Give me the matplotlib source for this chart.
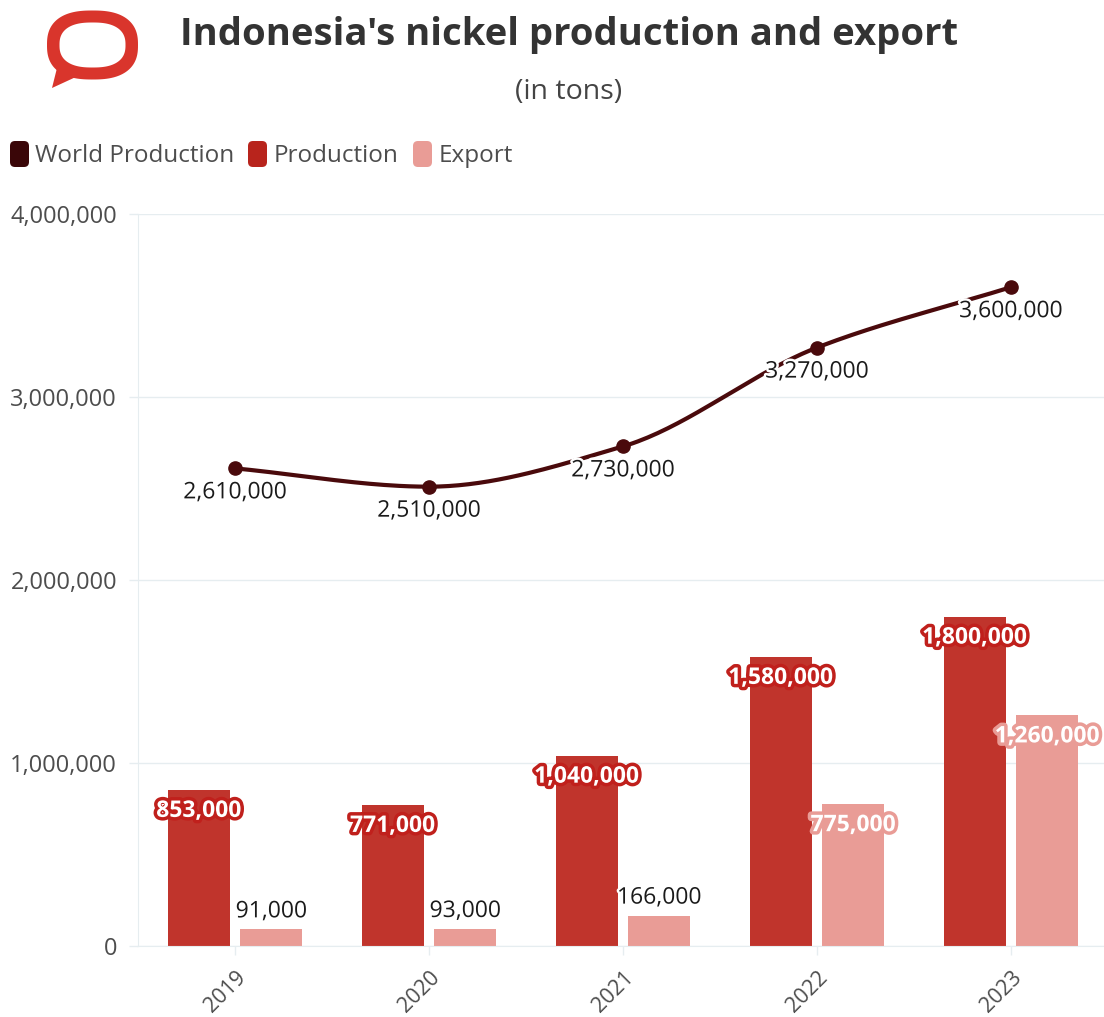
import numpy as np
import matplotlib
matplotlib.use("Agg")
import matplotlib.pyplot as plt
import matplotlib.patheffects as pe
from matplotlib.patches import FancyBboxPatch, Polygon
from matplotlib.transforms import ScaledTranslation

years = ["2019", "2020", "2021", "2022", "2023"]
world = [2610000, 2510000, 2730000, 3270000, 3600000]
production = [853000, 771000, 1040000, 1580000, 1800000]
export = [91000, 93000, 166000, 775000, 1260000]
y_ticks = [0, 1000000, 2000000, 3000000, 4000000]

DARK = "#4a0a0c"
RED = "#c0342c"
PINK = "#e99c96"
TEXT = "#4d4d4d"
GRID = "#e6edf0"
plt.rcParams["font.family"] = ["Open Sans", "DejaVu Sans"]

W, H = 1104, 1017
fig = plt.figure(figsize=(W / 100, H / 100), dpi=100, facecolor="white")
ax = fig.add_axes([138 / W, 1 - 946 / H, (1104 - 138) / W, (946 - 214) / H])
ax.set_xlim(-0.5, 4.48)
ax.set_ylim(0, 4000000)

def monotone_curve(xs, ys, n=40):
    # Cubic Hermite segments with slopes limited so the line never overshoots.
    xs, ys = np.asarray(xs, float), np.asarray(ys, float)
    d = np.diff(ys)
    m = np.zeros(len(ys))
    for i in range(1, len(ys) - 1):
        m[i] = 0 if d[i - 1] * d[i] <= 0 else 2 * d[i - 1] * d[i] / (d[i - 1] + d[i])
    m[0], m[-1] = d[0], d[-1]
    px, py = [], []
    for i in range(len(d)):
        t = np.linspace(0, 1, n)
        px.extend(xs[i] + t)
        py.extend((2*t**3 - 3*t**2 + 1) * ys[i] + (t**3 - 2*t**2 + t) * m[i]
                  + (-2*t**3 + 3*t**2) * ys[i + 1] + (t**3 - t**2) * m[i + 1])
    return px, py

x = np.arange(len(years))
offset, width = 0.187, 0.32
ax.bar(x - offset, production, width, color=RED, zorder=2)
ax.bar(x + offset, export, width, color=PINK, zorder=2)
cx, cy = monotone_curve(x, world)
ax.plot(cx, cy, color=DARK, lw=3.0, zorder=3, solid_capstyle="round")
ax.plot(x, world, "o", color=DARK, ms=9.5, zorder=4)

ax.set_yticks(y_ticks)
ax.set_yticklabels([f"{v:,}" for v in y_ticks], fontsize=17, color=TEXT)
ax.set_xticks(x)
ax.set_xticklabels(years, rotation=45, fontsize=15.5, color=TEXT, ha="center", va="top")
ax.tick_params(axis="both", length=6.5, color=GRID, width=1)
ax.tick_params(axis="x", pad=8.5)
ax.tick_params(axis="y", pad=8.5)
# Year labels sit slightly left of their ticks
shift = ScaledTranslation(-10 / 100, 0, fig.dpi_scale_trans)
for lab in ax.get_xticklabels():
    lab.set_transform(lab.get_transform() + shift)
ax.grid(axis="y", color=GRID, lw=1, zorder=0)
ax.set_axisbelow(True)
for side in ["top", "right"]:
    ax.spines[side].set_visible(False)
ax.spines["left"].set_color(GRID)
ax.spines["bottom"].set_color(GRID)

halo_white = [pe.withStroke(linewidth=3.5, foreground="white")]
halo_red = [pe.withStroke(linewidth=5, foreground="#c0201c")]
halo_pink = [pe.withStroke(linewidth=5, foreground="#e99c96")]

for xi, v in zip(x, world):
    ax.annotate(f"{v:,}", (xi, v), xytext=(0, -24), textcoords="offset pixels", ha="center",
                va="center", fontsize=16.5, color="#1a1a1a", path_effects=halo_white, zorder=5)
for xi, v in zip(x, production):
    ax.annotate(f"{v:,}", (xi - offset, v), xytext=(0, -21), textcoords="offset pixels", ha="center",
                va="center", fontsize=16.5, fontweight="bold", color="white", path_effects=halo_red, zorder=6)
for xi, v in zip(x, export):
    inside = v > 500000
    ax.annotate(f"{v:,}", (xi + offset, v), xytext=(0, -21 if inside else 18), textcoords="offset pixels",
                ha="center", va="center", fontsize=16.5, fontweight="bold" if inside else "normal",
                color="white" if inside else "#1a1a1a",
                path_effects=halo_pink if inside else halo_white, zorder=6)

# Title block
fig.text(569 / W, 1 - 35 / H, "Indonesia's nickel production and export", ha="center", va="center",
         fontsize=27.5, fontweight="bold", color="#333333")
fig.text(569 / W, 1 - 92 / H, "(in tons)", ha="center", va="center", fontsize=20.5, color="#444444")

# Speech-bubble logo drawn in figure pixel coordinates
overlay = fig.add_axes([0, 0, 1, 1], facecolor="none")
overlay.set_xlim(0, W)
overlay.set_ylim(H, 0)
overlay.axis("off")

def superellipse(cx_, cy_, rx, ry, p=2.5, n=160):
    t = np.linspace(0, 2 * np.pi, n)
    c, s = np.cos(t), np.sin(t)
    return np.column_stack([cx_ + rx * np.sign(c) * np.abs(c) ** (2 / p),
                            cy_ + ry * np.sign(s) * np.abs(s) ** (2 / p)])

LOGO = "#d9352c"
overlay.add_patch(Polygon([[57, 68], [52, 88], [78, 76]], closed=True, fc=LOGO, ec="none"))
overlay.add_patch(Polygon(superellipse(92.5, 45, 45.5, 34.5), closed=True, fc=LOGO, ec="none"))
overlay.add_patch(Polygon(superellipse(92.5, 45, 33, 22.5), closed=True, fc="white", ec="none"))

# Legend chips
for lx, label, color, tx in [(10, "World Production", "#3a0608", 35), (248, "Production", "#b8241c", 274),
                             (413, "Export", PINK, 439)]:
    overlay.add_patch(FancyBboxPatch((lx, 141), 19, 26, boxstyle="round,pad=0,rounding_size=5",
                                     fc=color, ec="none"))
    overlay.text(tx, 156, label, fontsize=17.5, color=TEXT, va="center", ha="left")

fig.savefig("out.png", dpi=100)
